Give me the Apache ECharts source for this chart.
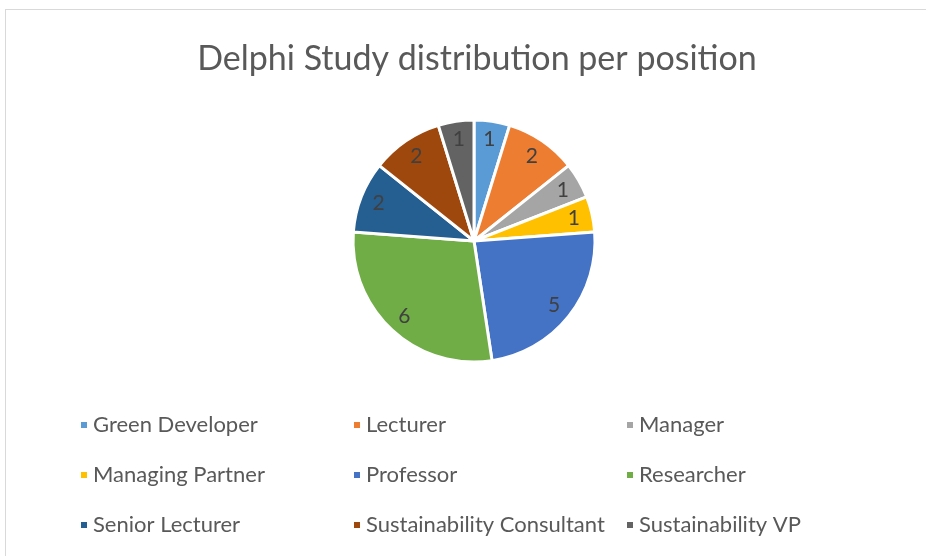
<!DOCTYPE html>
<html>
<head>
<meta charset="utf-8">
<script src="https://cdn.jsdelivr.net/npm/echarts@6/dist/echarts.min.js"></script>
<style>
  html, body { margin: 0; padding: 0; background: #fff; overflow: hidden; }
  .frame {
    position: absolute;
    left: 5px;
    top: 9px;
    width: 940px;
    height: 560px;
    border: 1px solid #d9d9d9;
  }
  #chart { position: absolute; left: 0; top: 0; width: 926px; height: 556px; }
</style>
</head>
<body>
<div class="frame"></div>
<div id="chart"></div>
<script>
const positions = [
  "Green Developer", "Lecturer", "Manager",
  "Managing Partner", "Professor", "Researcher",
  "Senior Lecturer", "Sustainability Consultant", "Sustainability VP"
];
const counts = [1, 2, 1, 1, 5, 6, 2, 2, 1];
const colors = [
  "#5B9BD5", "#ED7D31", "#A5A5A5",
  "#FFC000", "#4472C4", "#70AD47",
  "#255E91", "#9E480E", "#636363"
];

const font = "Lato";
const pieData = positions.map((p, i) => ({ name: p, value: counts[i] }));

// legend laid out in 3 columns, row-major like the original
const legendCols = [74, 347, 620];
const legends = legendCols.map((x, c) => ({
  orient: "vertical",
  left: x,
  top: 409,
  itemWidth: 8,
  itemHeight: 8,
  itemGap: 28,
  icon: "rect",
  selectedMode: false,
  data: [positions[c], positions[c + 3], positions[c + 6]],
  textStyle: { fontFamily: font, fontSize: 22, color: "#595959" },
}));

const chart = echarts.init(document.getElementById("chart"));
chart.setOption({
  animation: false,
  color: colors,
  title: {
    text: "Delphi Study distribution per position",
    left: 472,
    textAlign: "center",
    top: 37,
    textStyle: { fontFamily: font, fontSize: 34, fontWeight: "normal", color: "#595959" },
  },
  legend: legends,
  series: [
    {
      type: "pie",
      center: [474, 241],
      radius: [0, 121],
      startAngle: 90,
      clockwise: true,
      label: { show: false },
      labelLine: { show: false },
      itemStyle: { borderColor: "#fff", borderWidth: 3 },
      data: pieData,
    },
    {
      // transparent ring only to place the value labels near the rim
      type: "pie",
      center: [474, 241],
      radius: [78, 121],
      startAngle: 90,
      clockwise: true,
      silent: true,
      itemStyle: { color: "rgba(0,0,0,0)" },
      label: {
        show: true,
        position: "inside",
        formatter: "{c}",
        fontFamily: font,
        fontSize: 21,
        color: "#404040",
      },
      labelLine: { show: false },
      data: pieData,
    },
  ],
});
</script>
</body>
</html>
